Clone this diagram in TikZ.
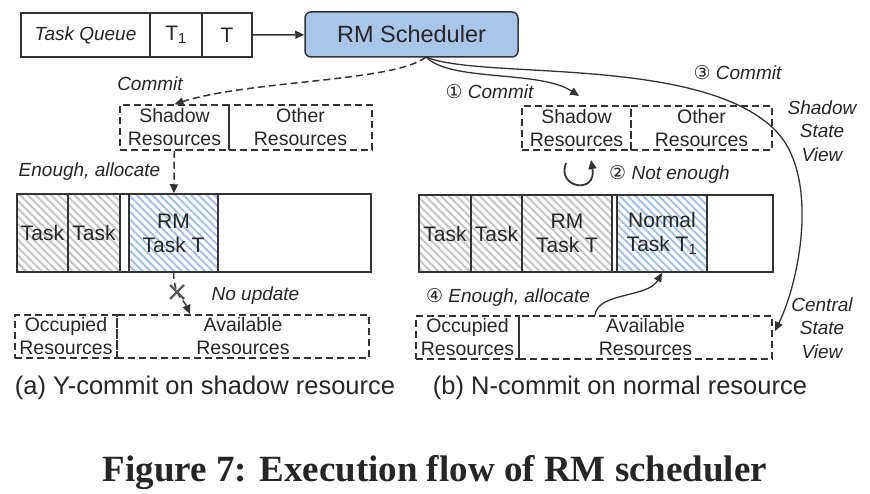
\documentclass[tikz,border=0pt]{standalone}
\usepackage{fontspec}
\setmainfont{Liberation Sans}
\newfontfamily\numfont{DejaVu Sans}
\newfontfamily\titlefont{Liberation Serif}
\usetikzlibrary{arrows.meta,patterns.meta}
\definecolor{ink}{HTML}{333333}
\definecolor{schedblue}{HTML}{A9C5EA}
\definecolor{hatchgray}{HTML}{C4C4C4}
\definecolor{hatchblue}{HTML}{A6BEE2}
\tikzset{
  box/.style={draw=ink, line width=1.5pt, inner sep=0pt, text=black!85, align=center,
    font=\fontsize{21}{24}\selectfont},
  dbox/.style={box, dash pattern=on 7pt off 4pt, font=\fontsize{19.5}{23}\selectfont},
  gstripe/.style={pattern={Lines[angle=-45,distance=5.5pt,line width=2pt]}, pattern color=hatchgray},
  bstripe/.style={pattern={Lines[angle=-45,distance=5.5pt,line width=2pt]}, pattern color=hatchblue},
  lbl/.style={font=\fontsize{19}{23.5}\selectfont\itshape, text=black!85, inner sep=0pt, align=center},
  flow/.style={draw=ink, line width=1.5pt, -{Triangle[length=9pt,width=8pt]}},
}
\begin{document}
\begin{tikzpicture}[x=1pt,y=-1pt]
\useasboundingbox (0,0) rectangle (870,494);
% queue and scheduler
\node[box, minimum width=129, minimum height=44, font=\fontsize{19}{23}\selectfont\itshape] (queue) at (85.5,35) {Task Queue};
\node[box, minimum width=52, minimum height=44] (qtone) at (176,35) {T\textsubscript{1}};
\node[box, minimum width=50, minimum height=44] (qt) at (227,35) {T};
\node[box, minimum width=213, minimum height=45, rounded corners=6pt, fill=schedblue,
  font=\fontsize{23.5}{26}\selectfont] (sched) at (411.5,34.5) {RM Scheduler};
\coordinate (sfoot) at (426,57);
\draw[flow] (qt) -- (sched);
% (a) shadow resource
\node[dbox, minimum width=109, minimum height=45] (lsh) at (174.5,127.5) {Shadow\\Resources};
\node[dbox, minimum width=143, minimum height=45] (loth) at (300.5,127.5) {Other\\Resources};
\node[box, gstripe, minimum width=51, minimum height=78] (ltone) at (42.5,233) {Task};
\node[box, gstripe, minimum width=52, minimum height=78] (lttwo) at (94,233) {Task};
\node[box, minimum width=9, minimum height=78] (lgap) at (124.5,233) {};
\node[box, bstripe, minimum width=89, minimum height=78] (lrm) at (173.5,233) {RM\\Task T};
\node[box, minimum width=153, minimum height=78] (lfree) at (294.5,233) {};
\node[dbox, minimum width=102, minimum height=43] (locc) at (66,336.5) {Occupied\\Resources};
\node[dbox, minimum width=252, minimum height=43] (lavail) at (243,336.5) {Available\\Resources};
\coordinate (noup) at (190,314);
\draw[flow, dash pattern=on 7pt off 4pt] (sfoot) .. controls (395,82) and (250,80) .. (lsh.north);
\draw[flow, dash pattern=on 7pt off 4pt] (lsh) -- (lrm);
\draw[flow, dash pattern=on 6pt off 4pt] (lrm.south) .. controls (174,296) and (184,300) .. (noup);
\draw[line width=2.4pt, black!65] (170,285) -- (184,299) (184,285) -- (170,299);
\node[lbl, anchor=base] (lcommit) at (150,91) {Commit};
\node[lbl, anchor=base] (lenough) at (89.5,177) {Enough, allocate};
\node[lbl, anchor=base] (lnoup) at (255.5,301) {No update};
\node[anchor=base, font=\fontsize{25.5}{28}\selectfont, text=black!85] (capa) at (205,394) {(a) Y-commit on shadow resource};
% (b) normal resource
\node[dbox, minimum width=109, minimum height=44] (rsh) at (576.5,128) {Shadow\\Resources};
\node[dbox, minimum width=141, minimum height=44] (roth) at (701.5,128) {Other\\Resources};
\node[box, gstripe, minimum width=52, minimum height=77] (rtone) at (445,233.5) {Task};
\node[box, gstripe, minimum width=51, minimum height=77] (rttwo) at (496.5,233.5) {Task};
\node[box, gstripe, minimum width=90, minimum height=77] (rrm) at (567,233.5) {RM\\Task T};
\node[box, minimum width=5, minimum height=77] (rgap) at (614.5,233.5) {};
\node[box, bstripe, minimum width=90, minimum height=77] (rnorm) at (662,233.5) {Normal\\Task T\textsubscript{1}};
\node[box, minimum width=66, minimum height=77] (rfree) at (740,233.5) {};
\node[dbox, minimum width=103, minimum height=43] (rocc) at (467.5,337.5) {Occupied\\Resources};
\node[dbox, minimum width=253, minimum height=43] (ravail) at (645.5,337.5) {Available\\Resources};
\coordinate (cone) at (579,96);
\coordinate (cthree) at (775,331);
\coordinate (loopa) at (566,163);
\coordinate (loopb) at (591,160);
\coordinate (cfour) at (595,315);
\draw[flow, line width=1.3pt] (sfoot) .. controls (450,82) and (540,70) .. (cone);
\draw[flow, line width=1.3pt] (sfoot) .. controls (480,80) and (700,55) .. (775,130)
  .. controls (820,175) and (800,280) .. (cthree);
\draw[flow, line width=1.8pt] (loopa) .. controls (556,188) and (597,195) .. (loopb);
\draw[flow, line width=1.3pt] (cfour) .. controls (598,292) and (648,298) .. (rnorm.south);
\node[lbl, anchor=base] (rcommit) at (489.5,99) {{\numfont\upshape ①} Commit};
\node[lbl, anchor=base] (rcthree) at (737.5,80) {{\numfont\upshape ③} Commit};
\node[lbl, anchor=base] (rnot) at (669.5,180) {{\numfont\upshape ②} Not enough};
\node[lbl, anchor=base] (renough) at (508,302) {{\numfont\upshape ④} Enough, allocate};
\node[lbl] (shview) at (822,131) {Shadow\\State\\View};
\node[lbl] (ceview) at (822,328) {Central\\State\\View};
\node[anchor=base, font=\fontsize{25.5}{28}\selectfont, text=black!85] (capb) at (620,394) {(b) N-commit on normal resource};
% title
\node[anchor=base, font=\titlefont\bfseries\fontsize{37}{40}\selectfont, text=black!85] (title) at (435,481)
  {Figure 7: Execution flow of RM scheduler};
\end{tikzpicture}
\end{document}
